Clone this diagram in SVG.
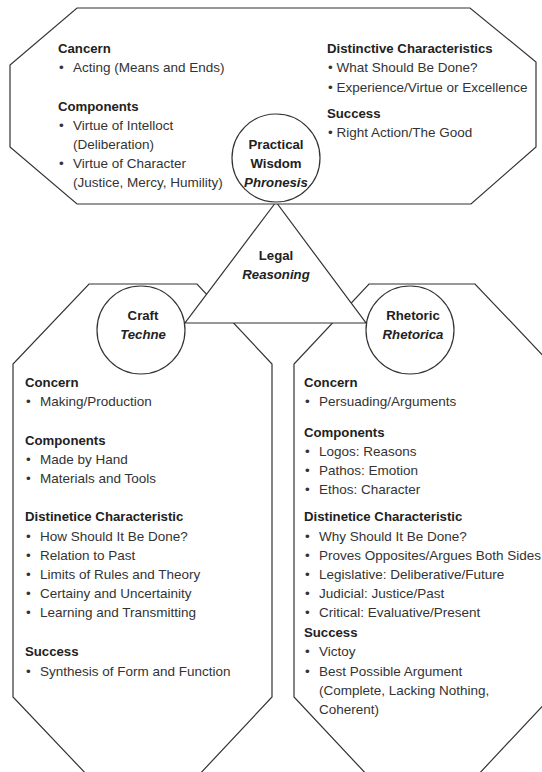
<svg xmlns="http://www.w3.org/2000/svg" width="542" height="772" viewBox="0 0 542 772">
<style>
.shape{fill:#fff;stroke:#333;stroke-width:1.2}
text{font-family:"Liberation Sans",Arial,sans-serif;fill:#333;font-size:13.5px}
.h{font-weight:bold;font-size:13.2px;fill:#222}
.t{font-weight:bold;font-size:13.2px;fill:#222;text-anchor:middle}
.i{font-style:italic}
</style>
<rect width="542" height="772" fill="#fff"/>
<g id="craft">
<polygon class="shape" points="89,284 197,284 272,364 272,697 197,777 89,777 13,697 13,364"/>
<text class="h" x="25" y="387">Concern</text>
<text y="406"><tspan x="26">•</tspan><tspan x="40">Making/Production</tspan></text>
<text class="h" x="25" y="445">Components</text>
<text y="464"><tspan x="26">•</tspan><tspan x="40">Made by Hand</tspan></text>
<text y="483"><tspan x="26">•</tspan><tspan x="40">Materials and Tools</tspan></text>
<text class="h" x="25" y="521">Distinetice Characteristic</text>
<text y="541"><tspan x="26">•</tspan><tspan x="40">How Should It Be Done?</tspan></text>
<text y="560"><tspan x="26">•</tspan><tspan x="40">Relation to Past</tspan></text>
<text y="579"><tspan x="26">•</tspan><tspan x="40">Limits of Rules and Theory</tspan></text>
<text y="598"><tspan x="26">•</tspan><tspan x="40">Certainy and Uncertainity</tspan></text>
<text y="617"><tspan x="26">•</tspan><tspan x="40">Learning and Transmitting</tspan></text>
<text class="h" x="25" y="656">Success</text>
<text y="676"><tspan x="26">•</tspan><tspan x="40">Synthesis of Form and Function</tspan></text>
</g>
<g id="rhetoric">
<polygon class="shape" points="369,284 475,284 551,364 551,697 476,777 369,777 294,697 294,364"/>
<text class="h" x="304" y="387">Concern</text>
<text y="406"><tspan x="305">•</tspan><tspan x="319">Persuading/Arguments</tspan></text>
<text class="h" x="304" y="437">Components</text>
<text y="456"><tspan x="305">•</tspan><tspan x="319">Logos: Reasons</tspan></text>
<text y="475"><tspan x="305">•</tspan><tspan x="319">Pathos: Emotion</tspan></text>
<text y="494"><tspan x="305">•</tspan><tspan x="319">Ethos: Character</tspan></text>
<text class="h" x="304" y="521">Distinetice Characteristic</text>
<text y="541"><tspan x="305">•</tspan><tspan x="319">Why Should It Be Done?</tspan></text>
<text y="560"><tspan x="305">•</tspan><tspan x="319">Proves Opposites/Argues Both Sides</tspan></text>
<text y="579"><tspan x="305">•</tspan><tspan x="319">Legislative: Deliberative/Future</tspan></text>
<text y="598"><tspan x="305">•</tspan><tspan x="319">Judicial: Justice/Past</tspan></text>
<text y="617"><tspan x="305">•</tspan><tspan x="319">Critical: Evaluative/Present</tspan></text>
<text class="h" x="304" y="637">Success</text>
<text y="656"><tspan x="305">•</tspan><tspan x="319">Victoy</tspan></text>
<text y="676"><tspan x="305">•</tspan><tspan x="319">Best Possible Argument</tspan></text>
<text x="319" y="695">(Complete, Lacking Nothing,</text>
<text x="319" y="714">Coherent)</text>
</g>
<g id="legal-reasoning">
<polygon class="shape" points="276,202 185,323 366,323"/>
<text class="t" x="276" y="260">Legal</text>
<text class="t i" x="276" y="279">Reasoning</text>
</g>
<g id="practical-wisdom-panel">
<polygon class="shape" points="77,8 470,8 536,62 536,147 471,204 77,204 10,147 10,65"/>
<text class="h" x="58" y="53">Cancern</text>
<text y="72"><tspan x="59">•</tspan><tspan x="73">Acting (Means and Ends)</tspan></text>
<text class="h" x="58" y="111">Components</text>
<text y="130"><tspan x="59">•</tspan><tspan x="73">Virtue of Intelloct</tspan></text>
<text x="73" y="149">(Deliberation)</text>
<text y="168"><tspan x="59">•</tspan><tspan x="73">Virtue of Character</tspan></text>
<text x="73" y="187">(Justice, Mercy, Humility)</text>
<text class="h" x="327" y="53">Distinctive Characteristics</text>
<text x="328" y="72">• What Should Be Done?</text>
<text x="328" y="92">• Experience/Virtue or Excellence</text>
<text class="h" x="327" y="118">Success</text>
<text x="328" y="137">• Right Action/The Good</text>
</g>
<g id="practical-wisdom">
<circle class="shape" cx="276" cy="158" r="44"/>
<text class="t" x="276" y="149">Practical</text>
<text class="t" x="276" y="168">Wisdom</text>
<text class="t i" x="276" y="187">Phronesis</text>
</g>
<g id="craft-circle">
<circle class="shape" cx="141" cy="330" r="44"/>
<text class="t" x="143" y="320">Craft</text>
<text class="t i" x="143" y="339">Techne</text>
</g>
<g id="rhetoric-circle">
<circle class="shape" cx="410" cy="330" r="44"/>
<text class="t" x="413" y="320">Rhetoric</text>
<text class="t i" x="413" y="339">Rhetorica</text>
</g>
<g id="connectors"/>
</svg>
